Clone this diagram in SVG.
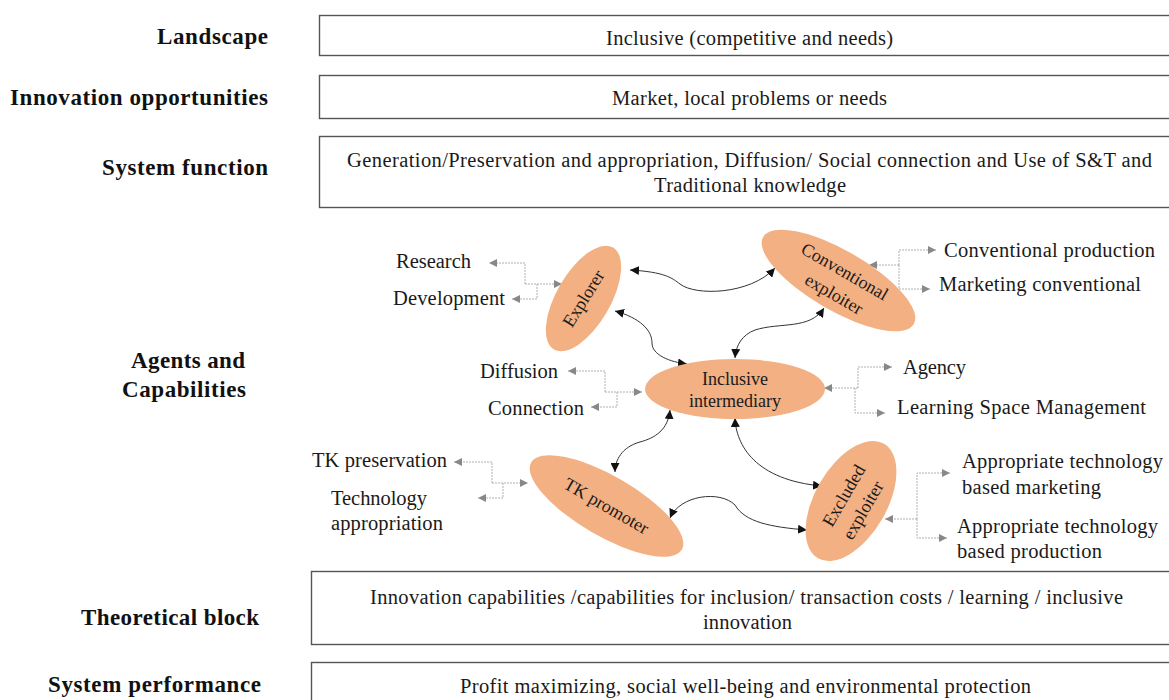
<svg xmlns="http://www.w3.org/2000/svg" width="1169" height="700" viewBox="0 0 1169 700">
  <style>
    .lbl { font-family: "Liberation Serif", "Times New Roman", serif; font-weight: bold; font-size: 23px; fill: #111; }
    .txt { font-family: "Liberation Serif", "Times New Roman", serif; font-size: 20.5px; fill: #1a1a1a; }
    .etx { font-family: "Liberation Serif", "Times New Roman", serif; font-size: 18px; fill: #1a1a1a; text-anchor: middle; }
    .box { fill: #fff; stroke: #555; stroke-width: 1.4; }
    .agent { fill: #F3B083; stroke: none; }
    .link { fill: none; stroke: #333; stroke-width: 1; marker-start: url(#ah); marker-end: url(#ah); }
    .cap { fill: none; stroke: #b0b0b0; stroke-width: 1; stroke-dasharray: 2 1; }
    .cap-end { marker-end: url(#gh); }
  </style>
  <defs>
    <marker id="ah" viewBox="0 0 10 10" refX="10" refY="5" markerWidth="9" markerHeight="9" markerUnits="userSpaceOnUse" orient="auto-start-reverse">
      <path d="M0,0 L10,5 L0,10 z" fill="#111"/>
    </marker>
    <marker id="gh" viewBox="0 0 10 10" refX="10" refY="5" markerWidth="8" markerHeight="8" markerUnits="userSpaceOnUse" orient="auto">
      <path d="M0,0 L10,5 L0,10 z" fill="#888"/>
    </marker>
  </defs>

  <rect width="1169" height="700" fill="#fff"/>

  <!-- row labels -->
  <g id="row-labels">
    <text class="lbl" x="268" y="44" text-anchor="end" textLength="111">Landscape</text>
    <text class="lbl" x="268" y="105" text-anchor="end" textLength="258">Innovation opportunities</text>
    <text class="lbl" x="268" y="175" text-anchor="end" textLength="166">System function</text>
    <text class="lbl" x="131" y="368" textLength="114">Agents and</text>
    <text class="lbl" x="122" y="397" textLength="124">Capabilities</text>
    <text class="lbl" x="259" y="625" text-anchor="end" textLength="178">Theoretical block</text>
    <text class="lbl" x="261" y="692" text-anchor="end" textLength="213">System performance</text>
  </g>

  <!-- framework boxes -->
  <g id="landscape">
    <rect class="box" x="319.5" y="15.5" width="870" height="40"/>
    <text class="txt" x="606" y="45" textLength="287">Inclusive (competitive and needs)</text>
  </g>
  <g id="innovation-opportunities">
    <rect class="box" x="319.5" y="75.5" width="870" height="43"/>
    <text class="txt" x="612" y="105" textLength="275">Market, local problems or needs</text>
  </g>
  <g id="system-function">
    <rect class="box" x="319.5" y="136.5" width="870" height="71"/>
    <text class="txt" x="347" y="167" textLength="805">Generation/Preservation and appropriation, Diffusion/ Social connection and Use of S&amp;T and</text>
    <text class="txt" x="654" y="192" textLength="192">Traditional knowledge</text>
  </g>
  <g id="theoretical-block">
    <rect class="box" x="311.5" y="571.5" width="870" height="73"/>
    <text class="txt" x="370" y="604" textLength="753">Innovation capabilities /capabilities for inclusion/ transaction costs / learning / inclusive</text>
    <text class="txt" x="703" y="629" textLength="89">innovation</text>
  </g>
  <g id="system-performance">
    <rect class="box" x="311.5" y="662.5" width="870" height="60"/>
    <text class="txt" x="460" y="693" textLength="571">Profit maximizing, social well-being and environmental protection</text>
  </g>

  <!-- connectors -->
  <g id="connectors">
    <!-- agent-to-agent links -->
    <path class="link" d="M630,270 C665,272 672,278 680,284 C695,296 750,295 775,268"/>
    <path class="link" d="M615,311 C640,318 652,330 652,343 C652,355 670,362 687,364"/>
    <path class="link" d="M824,308 C810,330 780,322 755,330 C742,335 736,345 735,358"/>
    <path class="link" d="M670,410 C668,430 655,438 640,442 C622,447 615,460 615,472"/>
    <path class="link" d="M735,418 C736,445 755,480 822,486"/>
    <path class="link" d="M670,518 C680,495 720,490 735,505 C745,522 770,527 807,530"/>

    <!-- capability branches -->
    <path class="cap cap-end" d="M525,284 H562"/>
    <path class="cap cap-end" d="M525,284 V263 H489"/>
    <path class="cap cap-end" d="M537,284 V299 H512"/>

    <path class="cap cap-end" d="M899,265 H869"/>
    <path class="cap cap-end" d="M899,265 V250 H936"/>
    <path class="cap cap-end" d="M899,265 V289 H930"/>

    <path class="cap cap-end" d="M605,392 H642"/>
    <path class="cap cap-end" d="M605,392 V371 H568"/>
    <path class="cap cap-end" d="M617,392 V407 H591"/>

    <path class="cap cap-end" d="M858,388 H824"/>
    <path class="cap cap-end" d="M858,388 V367 H892"/>
    <path class="cap cap-end" d="M855,388 V413 H885"/>

    <path class="cap cap-end" d="M492,483 H528"/>
    <path class="cap cap-end" d="M492,483 V462 H454"/>
    <path class="cap cap-end" d="M503,483 V498 H478"/>

    <path class="cap cap-end" d="M917,519 H885"/>
    <path class="cap cap-end" d="M917,519 V473 H950"/>
    <path class="cap cap-end" d="M917,519 V538 H947"/>
  </g>

  <!-- agents -->
  <g id="explorer" transform="translate(583.5,298.5) rotate(-60)">
    <ellipse class="agent" cx="0" cy="0" rx="59" ry="27"/>
    <text class="etx" x="0" y="6" transform="rotate(2)">Explorer</text>
  </g>
  <g id="conventional-exploiter" transform="translate(838.5,280.5) rotate(30)">
    <ellipse class="agent" cx="0" cy="0" rx="87" ry="30"/>
    <text class="etx" x="1" y="-5">Conventional</text>
    <text class="etx" x="3" y="20">exploiter</text>
  </g>
  <g id="inclusive-intermediary">
    <ellipse class="agent" cx="735" cy="389" rx="90" ry="30"/>
    <text class="etx" x="735" y="385">Inclusive</text>
    <text class="etx" x="735" y="407">intermediary</text>
  </g>
  <g id="tk-promoter" transform="translate(606.5,506) rotate(30)">
    <ellipse class="agent" cx="0" cy="0" rx="87" ry="30"/>
    <text class="etx" x="0" y="6">TK promoter</text>
  </g>
  <g id="excluded-exploiter" transform="translate(851,501) rotate(-60)">
    <ellipse class="agent" cx="0" cy="0" rx="66" ry="36"/>
    <text class="etx" x="1" y="-3">Excluded</text>
    <text class="etx" x="-2" y="21">exploiter</text>
  </g>

  <!-- capability labels -->
  <g id="explorer-capabilities">
    <text class="txt" x="396" y="268" textLength="75">Research</text>
    <text class="txt" x="393" y="305" textLength="112">Development</text>
  </g>
  <g id="conventional-capabilities">
    <text class="txt" x="944" y="257" textLength="211">Conventional production</text>
    <text class="txt" x="939" y="291" textLength="202">Marketing conventional</text>
  </g>
  <g id="intermediary-capabilities">
    <text class="txt" x="480" y="378" textLength="78">Diffusion</text>
    <text class="txt" x="488" y="415" textLength="96">Connection</text>
    <text class="txt" x="903" y="374" textLength="63">Agency</text>
    <text class="txt" x="897" y="414" textLength="249">Learning Space Management</text>
  </g>
  <g id="tk-capabilities">
    <text class="txt" x="312" y="467" textLength="135">TK preservation</text>
    <text class="txt" x="331" y="505" textLength="96">Technology</text>
    <text class="txt" x="331" y="530" textLength="112">appropriation</text>
  </g>
  <g id="excluded-capabilities">
    <text class="txt" x="962" y="468" textLength="201">Appropriate technology</text>
    <text class="txt" x="962" y="494" textLength="139">based marketing</text>
    <text class="txt" x="957" y="533" textLength="201">Appropriate technology</text>
    <text class="txt" x="957" y="558" textLength="145">based production</text>
  </g>
</svg>
